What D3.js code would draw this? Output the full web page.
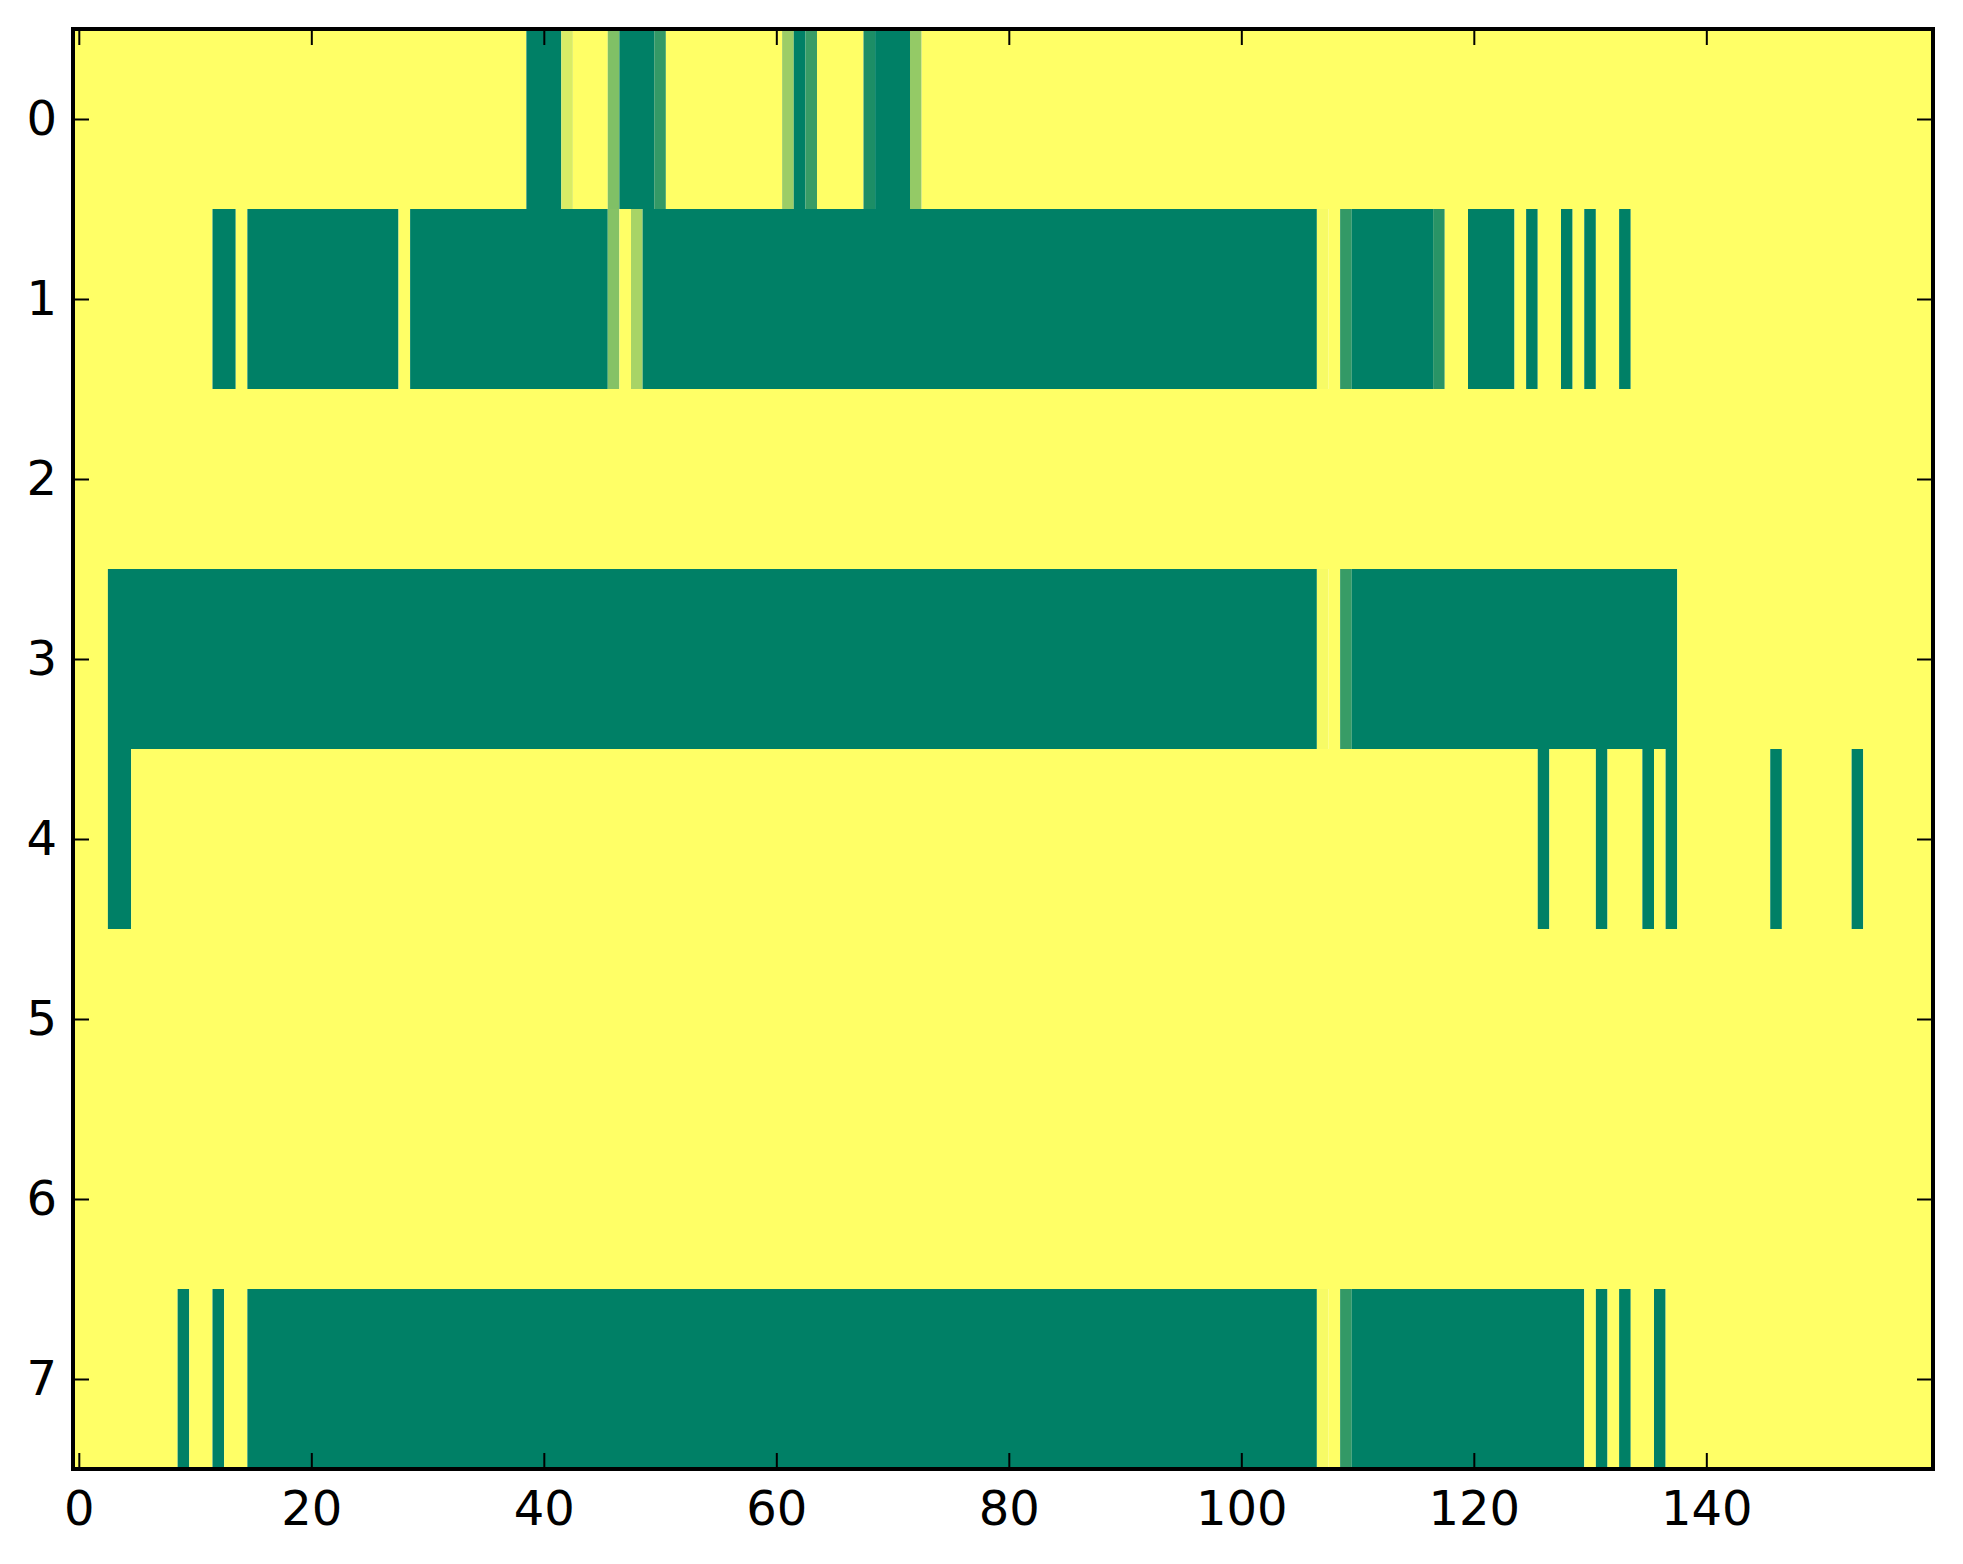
<!DOCTYPE html>
<html>
<head>
<meta charset="utf-8">
<script src="https://cdn.jsdelivr.net/npm/d3@7"></script>
<style>
    body { margin: 0; background: #fff; }
    .tick text { font-family: "DejaVu Sans", sans-serif; font-size: 48px; fill: #000; }
    .tick line { stroke: #000; stroke-width: 2px; }
</style>
</head>
<body>
<svg id="chart" width="1963" height="1564"></svg>
<script>
var N_COLS = 160;
var N_ROWS = 8;

// non-yellow runs per row: [first col, last col, value], everything else is 1
var row0 = [[39, 41, 0], [42, 42, 0.85], [46, 46, 0.5], [47, 49, 0], [50, 50, 0.2],
            [61, 61, 0.61], [62, 62, 0], [63, 63, 0.22], [68, 68, 0.11], [69, 71, 0], [72, 72, 0.58]];
var row1 = [[12, 13, 0], [15, 27, 0], [29, 45, 0], [46, 46, 0.52], [48, 48, 0.66], [49, 106, 0],
            [107, 107, 0.97], [109, 109, 0.2], [110, 116, 0], [117, 117, 0.16], [120, 123, 0],
            [125, 125, 0], [128, 128, 0], [130, 130, 0], [133, 133, 0]];
var row2 = [];
var row3 = [[3, 106, 0], [107, 107, 0.97], [109, 109, 0.22], [110, 137, 0]];
var row4 = [[3, 4, 0], [126, 126, 0], [131, 131, 0], [135, 135, 0], [137, 137, 0],
            [146, 146, 0], [153, 153, 0]];
var row5 = [];
var row6 = [];
var row7 = [[9, 9, 0], [12, 12, 0], [15, 106, 0], [107, 107, 0.97], [109, 109, 0.2],
            [110, 129, 0], [131, 131, 0], [133, 133, 0], [136, 136, 0]];
var rows = [row0, row1, row2, row3, row4, row5, row6, row7];

var xTicks = [0, 20, 40, 60, 80, 100, 120, 140];
var yTicks = [0, 1, 2, 3, 4, 5, 6, 7];

var margin = {left: 73, top: 29, right: 30, bottom: 95};
var width = 1963 - margin.left - margin.right;
var height = 1564 - margin.top - margin.bottom;

var x = d3.scaleLinear().domain([-0.5, N_COLS - 0.5]).range([0, width]);
var y = d3.scaleLinear().domain([-0.5, N_ROWS - 0.5]).range([0, height]);
// matplotlib "summer"
var color = d3.scaleLinear().domain([0, 1])
    .range(["rgb(0,128,102)", "rgb(255,255,102)"])
    .interpolate(d3.interpolateRgb);

// full grid, then merge equal neighbours so no seams show
function build_cells() {
    var cells = [];
    for (var r = 0; r < N_ROWS; r++) {
        var vals = [];
        for (var c = 0; c < N_COLS; c++) vals.push(1);
        rows[r].forEach(function(run) {
            for (var c = run[0]; c <= run[1]; c++) vals[c] = run[2];
        });
        for (var c = 0; c < N_COLS; c++) {
            var last = cells[cells.length - 1];
            if (c > 0 && last.row == r && last.value == vals[c]) {
                last.end = c;
            } else {
                cells.push({row: r, start: c, end: c, value: vals[c]});
            }
        }
    }
    return cells;
}

var svg = d3.select("#chart");
var g = svg.append("g")
    .attr("transform", "translate(" + margin.left + "," + margin.top + ")");

g.selectAll("rect.cell")
    .data(build_cells())
    .enter().append("rect")
    .attr("class", "cell")
    .attr("x", function(d) { return x(d.start - 0.5); })
    .attr("width", function(d) { return x(d.end + 0.5) - x(d.start - 0.5); })
    .attr("y", function(d) { return y(d.row - 0.5); })
    .attr("height", function(d) { return y(d.row + 0.5) - y(d.row - 0.5); })
    .attr("fill", function(d) { return color(d.value); });

// ticks point inward on all four sides
var axBottom = g.append("g").attr("transform", "translate(0," + height + ")")
    .call(d3.axisBottom(x).tickValues(xTicks).tickSizeInner(-16).tickSizeOuter(0).tickPadding(22));
var axTop = g.append("g")
    .call(d3.axisTop(x).tickValues(xTicks).tickSizeInner(-16).tickSizeOuter(0).tickFormat(""));
var axLeft = g.append("g")
    .call(d3.axisLeft(y).tickValues(yTicks).tickSizeInner(-16).tickSizeOuter(0).tickPadding(16));
var axRight = g.append("g").attr("transform", "translate(" + width + ",0)")
    .call(d3.axisRight(y).tickValues(yTicks).tickSizeInner(-16).tickSizeOuter(0).tickFormat(""));

[axBottom, axTop, axLeft, axRight].forEach(function(a) {
    a.select(".domain").remove();
    a.attr("font-family", null).attr("font-size", null);
});

g.append("rect")
    .attr("width", width)
    .attr("height", height)
    .attr("fill", "none")
    .attr("stroke", "#000")
    .attr("stroke-width", 4);
</script>
</body>
</html>
